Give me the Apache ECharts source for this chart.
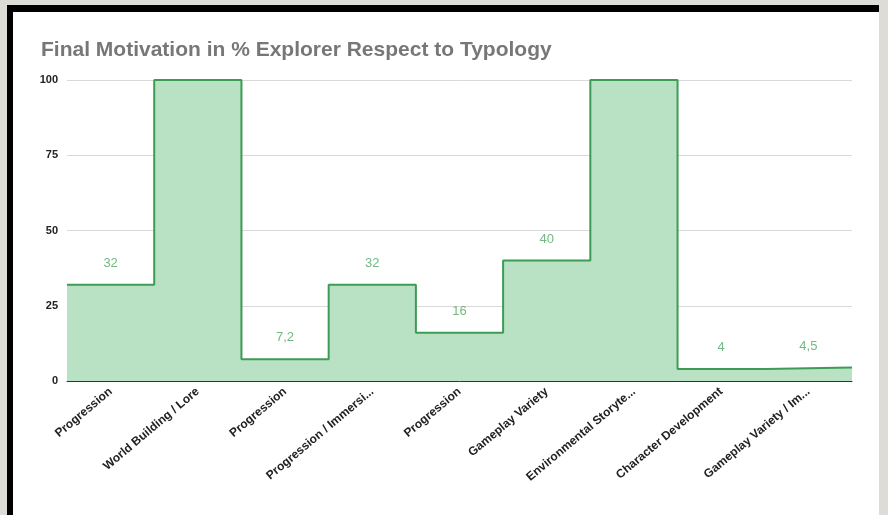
<!DOCTYPE html>
<html>
<head>
<meta charset="utf-8">
<script src="https://cdn.jsdelivr.net/npm/echarts@6/dist/echarts.min.js"></script>
<style>
  html, body { margin: 0; padding: 0; width: 888px; height: 515px; overflow: hidden; background: #dedcd6; }
  #frame { position: absolute; left: 7px; top: 5px; width: 872px; height: 520px; background: #000; }
  #inner { position: absolute; left: 13px; top: 12px; width: 866px; height: 503px; background: #fff; }
  #chart { position: absolute; left: 0; top: 0; width: 888px; height: 515px; }
</style>
</head>
<body>
<div id="frame"></div>
<div id="inner"></div>
<div id="chart"></div>
<script>
const titleText = 'Final Motivation in % Explorer Respect to Typology';
const categories = [
  'Progression',
  'World Building / Lore',
  'Progression',
  'Progression / Immersi...',
  'Progression',
  'Gameplay Variety',
  'Environmental Storyte...',
  'Character Development',
  'Gameplay Variety / Im...'
];
const values = [32, 100, 7.2, 32, 16, 40, 100, 4, 4.5];
const yTicks = { min: 0, max: 100, interval: 25 };

const stepData = values.map((v, i) => [i, v]);
stepData.push([values.length, values[values.length - 1]]);

const chart = echarts.init(document.getElementById('chart'), null, { renderer: 'canvas' });
chart.setOption({
  backgroundColor: 'transparent',
  animation: false,
  title: {
    text: titleText,
    left: 36,
    top: 35,
    textStyle: { fontFamily: 'Liberation Sans, Arial, sans-serif', fontSize: 21, fontWeight: 'bold', color: '#777' }
  },
  grid: { left: 67, right: 36, top: 80, bottom: 134, containLabel: false },
  xAxis: [
    {
      type: 'category',
      data: categories,
      boundaryGap: true,
      axisLine: { show: true, lineStyle: { color: '#333', width: 1 } },
      axisTick: { show: false },
      axisLabel: {
        rotate: 40,
        interval: 0,
        margin: 9,
        fontFamily: 'Liberation Sans, Arial, sans-serif',
        fontSize: 12,
        fontWeight: 'bold',
        color: '#222'
      },
      z: 5
    },
    { type: 'value', min: 0, max: values.length, show: false }
  ],
  yAxis: {
    type: 'value',
    min: yTicks.min,
    max: yTicks.max,
    interval: yTicks.interval,
    axisLine: { show: false },
    axisTick: { show: false },
    splitLine: { lineStyle: { color: '#d9d9d9', width: 1 } },
    axisLabel: {
      margin: 9,
      fontFamily: 'Liberation Sans, Arial, sans-serif',
      fontSize: 11,
      fontWeight: 'bold',
      color: '#222'
    }
  },
  series: [
    {
      type: 'line',
      xAxisIndex: 1,
      data: stepData,
      step: 'end',
      symbol: 'none',
      lineStyle: { color: '#3c9c53', width: 2 },
      areaStyle: { color: '#b9e2c4', opacity: 1 },
      z: 2
    },
    {
      type: 'scatter',
      xAxisIndex: 0,
      data: values,
      symbolSize: 0,
      silent: true,
      label: {
        show: true,
        position: 'top',
        distance: 15,
        fontFamily: 'Liberation Sans, Arial, sans-serif',
        fontSize: 13,
        color: '#4fa862',
        formatter: p => p.value >= yTicks.max ? '' : String(p.value).replace('.', ',')
      },
      z: 3
    }
  ]
});
</script>
</body>
</html>
